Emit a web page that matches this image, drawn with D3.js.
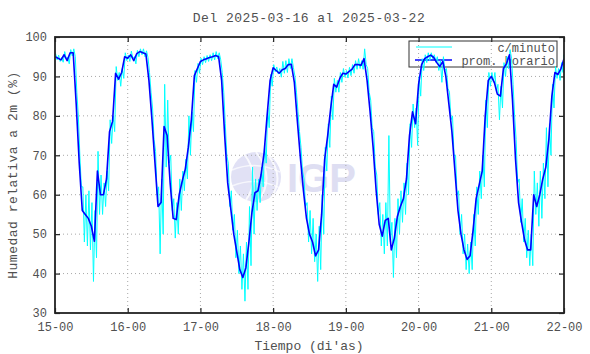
<!DOCTYPE html>
<html><head><meta charset="utf-8">
<script src="https://cdn.jsdelivr.net/npm/d3@7/dist/d3.min.js"></script>
<style>body{margin:0;background:#fff}</style>
</head><body>
<svg id="c" width="590" height="354"></svg>
<script>
// Hourly averages (prom. horario), hours 0..168 from 2025-03-15 00:00
const promHorario = [
 95, 94.6, 94.2, 95.5, 94, 96, 96, 83, 68, 56, 55, 54, 52, 48.2, 66, 60, 60, 64, 76, 78.6, 90.8, 89.3, 91, 95,
 94.6, 95.5, 94, 95.8, 96.3, 96, 95.7, 89, 79, 68, 57, 58, 77.3, 75, 63, 54, 53.7, 60, 63.5, 66.5, 72, 79, 90.2, 92,
 93.8, 94.2, 94.5, 94.8, 95, 95.3, 95, 89, 75, 63, 56.5, 50, 45.5, 41, 39, 41.5, 48, 55.5, 60.5, 61, 65, 70.5, 80, 89,
 92.2, 91.5, 90.8, 91.7, 92, 93, 93.1, 88.5, 78.6, 69.3, 61, 54, 50, 48, 44.5, 46, 55, 69, 75, 82, 88, 87.3, 89.5, 90.8,
 90.6, 91.2, 91.8, 93, 93, 92.8, 94.5, 89, 81, 72, 61, 52.5, 49.5, 53.5, 54, 46, 49, 54.5, 57, 59, 64, 75, 81, 78,
 88, 93, 94.5, 95, 95.4, 94.8, 93.5, 92.5, 93.8, 90, 83, 76, 66, 56, 50, 46, 43.6, 44.5, 51, 59, 62.5, 66, 80, 89,
 90, 88.5, 85.5, 85, 92, 93.2, 95.5, 84, 69, 58, 53, 48.5, 46, 46, 60, 57, 60, 64, 67, 74, 85, 91, 90.5, 92,
 94.5
];
// Per-minute data summarised as low / high reached within each hour
const minutoBajo = [
 94.2, 93.8, 93.6, 94.6, 93.2, 95.2, 95, 80, 62, 48, 47, 46, 38, 44, 55, 55, 57, 61, 73, 76, 89, 87.5, 89.5, 94,
 93.8, 94.6, 93.2, 95, 95.5, 95, 94.8, 86, 74, 60, 45, 50, 67, 68, 56, 49, 50, 56, 61, 64, 70, 76, 88.5, 90.8,
 93, 93.5, 93.8, 94, 94.2, 94.5, 94.2, 86, 70, 57, 51, 44, 40, 36, 33, 36, 42, 50, 56, 58, 62, 68, 77, 87.5,
 91.2, 90.6, 89.8, 90.8, 91, 92, 92.2, 86, 76, 66, 57, 48, 45, 43, 38, 41, 50, 66, 72, 79, 86, 86, 88.5, 89.8,
 89.6, 90.2, 90.8, 91.8, 92, 91.8, 93, 86, 77, 67, 55, 47, 45, 47, 48, 39, 44, 50, 53, 55, 60, 72, 77, 72.5,
 85, 91.5, 93.5, 94, 94.5, 93.6, 91.5, 88.5, 91.5, 87, 79, 70, 60, 50, 45, 41, 40, 41, 47, 55, 59, 62, 77, 87.5,
 88.5, 86, 79, 82, 90, 92, 94.5, 80, 63, 53, 48, 44, 42, 42, 55, 52, 54, 59, 62, 70, 82, 89.5, 89, 91,
 94
];
const minutoAlto = [
 95.8, 95.4, 94.8, 96.3, 94.8, 96.8, 97, 86, 70, 62, 60, 61, 58, 56, 71, 65, 63, 66, 79, 80, 92.5, 91, 92, 96,
 95.4, 96.4, 95, 96.6, 97, 97, 96.5, 91, 82, 71, 62, 64, 88, 84, 70, 59, 58, 64, 66, 69, 80, 81, 91.5, 93.3,
 94.6, 95, 95.3, 95.5, 96, 96.3, 96, 91, 78, 68, 61, 55, 51, 47, 45, 48, 57, 67, 64, 64, 67, 73, 82, 90.5,
 93, 92.4, 92, 93.8, 94, 94.5, 94.5, 90, 81, 72, 64, 58, 56, 54, 50, 52, 60, 72, 78, 85, 89.5, 89, 91, 92,
 91.5, 92.3, 93, 94, 94.5, 94, 97, 92, 84, 76, 65, 58, 55, 58, 75, 53, 54, 59, 61, 63, 68, 78, 83, 82,
 90, 94.5, 95.5, 96, 96, 95.5, 95, 94, 95, 92, 86, 80, 70, 61, 55, 50, 47.5, 48, 55, 62, 66, 70, 84, 91,
 91, 91, 88, 87.5, 93.5, 95, 96.8, 88, 74, 64, 59, 54, 51, 50, 66, 63, 66, 68, 77, 78, 88, 92.5, 92, 93.5,
 95.5
];
const yTicks = [30, 40, 50, 60, 70, 80, 90, 100];
const xTickHours = [0, 24, 48, 72, 96, 120, 144, 168];
const xTickLabels = ["15-00", "16-00", "17-00", "18-00", "19-00", "20-00", "21-00", "22-00"];
const legendLabels = ["c/minuto", "prom. horario"];
const titleText = "Del 2025-03-16 al 2025-03-22";

const svg = d3.select("#c");
const L = 55, R = 564, T = 37, B = 313;
const x = d3.scaleLinear().domain([0, 168]).range([L, R]);
const y = d3.scaleLinear().domain([30, 100]).range([B, T]);
const font = "'Liberation Mono','Courier New',monospace";
const txt = "#505050";

// watermark
const wm = svg.append("g");
wm.append("circle").attr("cx", 256).attr("cy", 177).attr("r", 25).attr("fill", "#e1e1f5");
wm.append("path").attr("d", "M244,154 Q262,177 246,200 M256,152 Q276,177 258,202 M268,155 Q286,178 270,199")
  .attr("fill", "none").attr("stroke", "#fff").attr("stroke-width", 2).attr("opacity", 0.8);
wm.append("path").attr("d", "M232,170 Q256,160 280,172 M232,186 Q256,176 280,188")
  .attr("fill", "none").attr("stroke", "#fff").attr("stroke-width", 1.5).attr("opacity", 0.7);
wm.append("text").attr("x", 287).attr("y", 192).text("IGP")
  .attr("font-family", "'Liberation Sans',Arial,sans-serif").attr("font-weight", "bold")
  .attr("font-size", 40).attr("fill", "#dedef2");

// grid
const grid = svg.append("g").attr("stroke", "#a8a8a8").attr("stroke-dasharray", "1,3").attr("stroke-width", 1);
yTicks.filter(v => v > 30 && v < 100).forEach(v => {
  grid.append("line").attr("x1", L).attr("x2", R).attr("y1", y(v)).attr("y2", y(v));
});
xTickHours.filter(h => h > 0 && h < 168).forEach(h => {
  grid.append("line").attr("x1", x(h)).attr("x2", x(h)).attr("y1", T).attr("y2", B);
});

// axes with inward ticks
const axL = svg.append("g").attr("transform", `translate(${L},0)`)
  .call(d3.axisLeft(y).tickValues(yTicks).tickSize(-5).tickPadding(8).tickFormat(d3.format("d")));
const axR = svg.append("g").attr("transform", `translate(${R},0)`)
  .call(d3.axisRight(y).tickValues(yTicks).tickSize(-5).tickFormat(""));
const axB = svg.append("g").attr("transform", `translate(0,${B})`)
  .call(d3.axisBottom(x).tickValues(xTickHours).tickSize(-5).tickPadding(9).tickFormat((d, i) => xTickLabels[i]));
const axT = svg.append("g").attr("transform", `translate(0,${T})`)
  .call(d3.axisTop(x).tickValues(xTickHours).tickSize(-5).tickFormat(""));
[axL, axR, axB, axT].forEach(a => {
  a.select(".domain").remove();
  a.selectAll(".tick line").attr("stroke", "#222").attr("stroke-width", 1.2);
  a.selectAll("text").attr("font-family", font).attr("font-size", 12).attr("fill", txt);
});

// legend (drawn under data)
const lg = svg.append("g");
lg.append("rect").attr("x", 409).attr("y", 41).attr("width", 148).attr("height", 26)
  .attr("fill", "none").attr("stroke", "#333").attr("stroke-width", 1);
lg.append("line").attr("x1", 416).attr("x2", 452).attr("y1", 47).attr("y2", 47).attr("stroke", "#00ffff").attr("stroke-width", 1);
lg.append("line").attr("x1", 415).attr("x2", 452).attr("y1", 60).attr("y2", 60).attr("stroke", "#0000ff").attr("stroke-width", 1.5);
lg.append("text").attr("x", 555).attr("y", 52).attr("text-anchor", "end").text(legendLabels[0])
  .attr("font-family", font).attr("font-size", 12).attr("fill", txt);
lg.append("text").attr("x", 555).attr("y", 65).attr("text-anchor", "end").text(legendLabels[1])
  .attr("font-family", font).attr("font-size", 12).attr("fill", txt);

// per-minute series (cyan): zigzag between hourly low/high
const minPts = [];
for (let i = 0; i < minutoBajo.length; i++) {
  if (i < minutoBajo.length - 1) {
    minPts.push([i + 0.2, minutoAlto[i]], [i + 0.7, minutoBajo[i]]);
  } else {
    minPts.push([i - 0.05, minutoAlto[i]], [i, minutoBajo[i]]);
  }
}
const line = d3.line().x(d => x(d[0])).y(d => y(d[1]));
svg.append("clipPath").attr("id", "pc").append("rect").attr("x", L).attr("y", T).attr("width", R - L).attr("height", B - T);
svg.append("path").datum(minPts).attr("d", line).attr("fill", "none")
  .attr("stroke", "#00ffff").attr("stroke-width", 1).attr("clip-path", "url(#pc)");

// hourly averages (blue)
svg.append("path").datum(promHorario.map((v, i) => [i, v])).attr("d", line).attr("fill", "none")
  .attr("stroke", "#0000ff").attr("stroke-width", 1.6).attr("stroke-linejoin", "round").attr("clip-path", "url(#pc)");

// frame
svg.append("rect").attr("x", L).attr("y", T).attr("width", R - L).attr("height", B - T)
  .attr("fill", "none").attr("stroke", "#222").attr("stroke-width", 1.8);

// titles
svg.append("text").attr("x", 309).attr("y", 22).attr("text-anchor", "middle").text(titleText)
  .attr("font-family", font).attr("font-size", 13).attr("fill", txt).attr("letter-spacing", 0.5);
svg.append("text").attr("x", 309).attr("y", 350).attr("text-anchor", "middle").text("Tiempo (di'as)")
  .attr("font-family", font).attr("font-size", 13).attr("fill", txt);
svg.append("text").attr("transform", "translate(17,175) rotate(-90)").attr("text-anchor", "middle")
  .text("Humedad relativa a 2m (%)").attr("font-family", font).attr("font-size", 13).attr("fill", txt).attr("letter-spacing", 0.5);
</script>
</body></html>
